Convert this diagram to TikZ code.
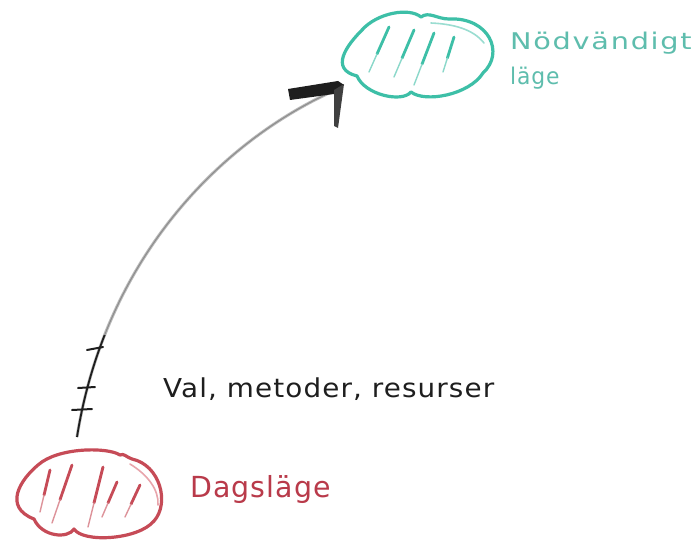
\documentclass[tikz,border=0pt]{standalone}
\usepackage{fontspec}
\usetikzlibrary{calc}
\newfontfamily\hand[LetterSpace=4]{DejaVu Sans}
\newfontfamily\handwide[LetterSpace=6]{DejaVu Sans}
\definecolor{mint}{HTML}{3DBFA7}
\definecolor{mintlight}{HTML}{9ADDD1}
\definecolor{minttext}{HTML}{5EBDAD}
\definecolor{rosy}{HTML}{C64B57}
\definecolor{rosylight}{HTML}{E8A5AC}
\definecolor{rosytext}{HTML}{B93A4A}
\definecolor{ink}{HTML}{1E1E1E}
\tikzset{
  outline/.style={line width=3.2pt, line join=round, line cap=round},
  hatch/.style={line width=2.8pt, line cap=round},
  hatchtail/.style={line width=1.4pt, line cap=round},
  label/.style={inner sep=0pt, anchor=base west},
  tick/.style={ink, line width=2pt, line cap=round},
}
\begin{document}
\begin{tikzpicture}[x=1pt, y=-1pt]
\fill[white] (0,0) rectangle (695,548);
\useasboundingbox (0,0) rectangle (695,548);

% anchor points of the two states
\coordinate (goal) at (417,55);
\coordinate (now) at (88,495);

% target state cloud: three lobes meeting in cusps
\begin{scope}[shift={(goal)}]
  \draw[mint, outline] (4,-38)
    .. controls (-8,-48) and (-40,-42) .. (-55,-25)
    .. controls (-70,-10) and (-88,14) .. (-60,21)
    .. controls (-52,40) and (-15,48) .. (-6,37)
    .. controls (8,48) and (52,40) .. (66,18)
    .. controls (88,-2) and (72,-38) .. (32,-36)
    .. controls (20,-36) and (12,-44) .. cycle;
  \draw[mintlight, line width=1.6pt, line cap=round]
    (14,-32) .. controls (36,-31) and (56,-26) .. (67,-12);
  \foreach \a/\b/\c/\d in {-28/-28/-48/17, -3/-25/-23/22, 17/-22/-3/30, 37/-18/26/17}{
    \draw[mint, hatch] (\a,\b) -- ($(\a,\b)!0.6!(\c,\d)$);
    \draw[mint!60, hatchtail] ($(\a,\b)!0.6!(\c,\d)$) -- (\c,\d);
  }
\end{scope}

% current state cloud
\begin{scope}[shift={(now)}]
  \draw[rosy, outline] (32,-40)
    .. controls (20,-48) and (-30,-48) .. (-50,-30)
    .. controls (-68,-15) and (-85,12) .. (-54,24)
    .. controls (-46,42) and (-20,44) .. (-14,34)
    .. controls (-5,48) and (50,45) .. (66,26)
    .. controls (82,8) and (72,-30) .. (44,-36)
    .. controls (38,-38) and (36,-42) .. cycle;
  \draw[rosylight, line width=1.6pt, line cap=round]
    (42,-31) .. controls (60,-20) and (71,-5) .. (70,10);
  \foreach \a/\b/\c/\d in {-16/-30/-36/28, -38/-25/-48/17, 15/-28/0/32, 29/-13/14/22, 52/-10/37/22}{
    \draw[rosy, hatch] (\a,\b) -- ($(\a,\b)!0.6!(\c,\d)$);
    \draw[rosy!60, hatchtail] ($(\a,\b)!0.6!(\c,\d)$) -- (\c,\d);
  }
\end{scope}

% the path from the current state to the target
\coordinate (start) at (77,437);
\coordinate (tip) at (340,88);
\draw[gray!55, line width=3pt] (start) .. controls (105,260) and (220,140) .. (tip);
\draw[gray!90, line width=1pt] (start) .. controls (105,260) and (220,140) .. (tip);
\begin{scope}
  \clip (0,335) rectangle (200,450);
  \draw[ink, line width=1.8pt] (start) .. controls (105,260) and (220,140) .. (tip);
\end{scope}
\draw[tick] (87,350) -- (103,347);
\draw[tick] (78,388) -- (95,387);
\draw[tick] (72,410) -- (92,409);

% arrow head
\fill[ink] (288,89) -- (338,81) -- (344,85) -- (334,94) -- (290,100) -- cycle;
\fill[ink!85] (334,90) -- (344,84) -- (338,128) -- (334,126) -- cycle;

% labels
\node[label, text=minttext, font=\handwide\fontsize{23}{26}\selectfont] (goaltitle) at (510,50)
  {\scalebox{1.25}[1]{Nödvändigt}};
\node[label, text=minttext, font=\hand\fontsize{23}{26}\selectfont] (goalsub) at (510,85)
  {\scalebox{0.95}[1]{läge}};
\node[label, text=ink, font=\hand\fontsize{26}{30}\selectfont] (means) at (163,397)
  {\scalebox{1.07}[1]{Val, metoder, resurser}};
\node[label, text=rosytext, font=\hand\fontsize{29}{33}\selectfont] (nowtitle) at (190,497)
  {\scalebox{0.98}[1]{Dagsläge}};
\end{tikzpicture}
\end{document}
